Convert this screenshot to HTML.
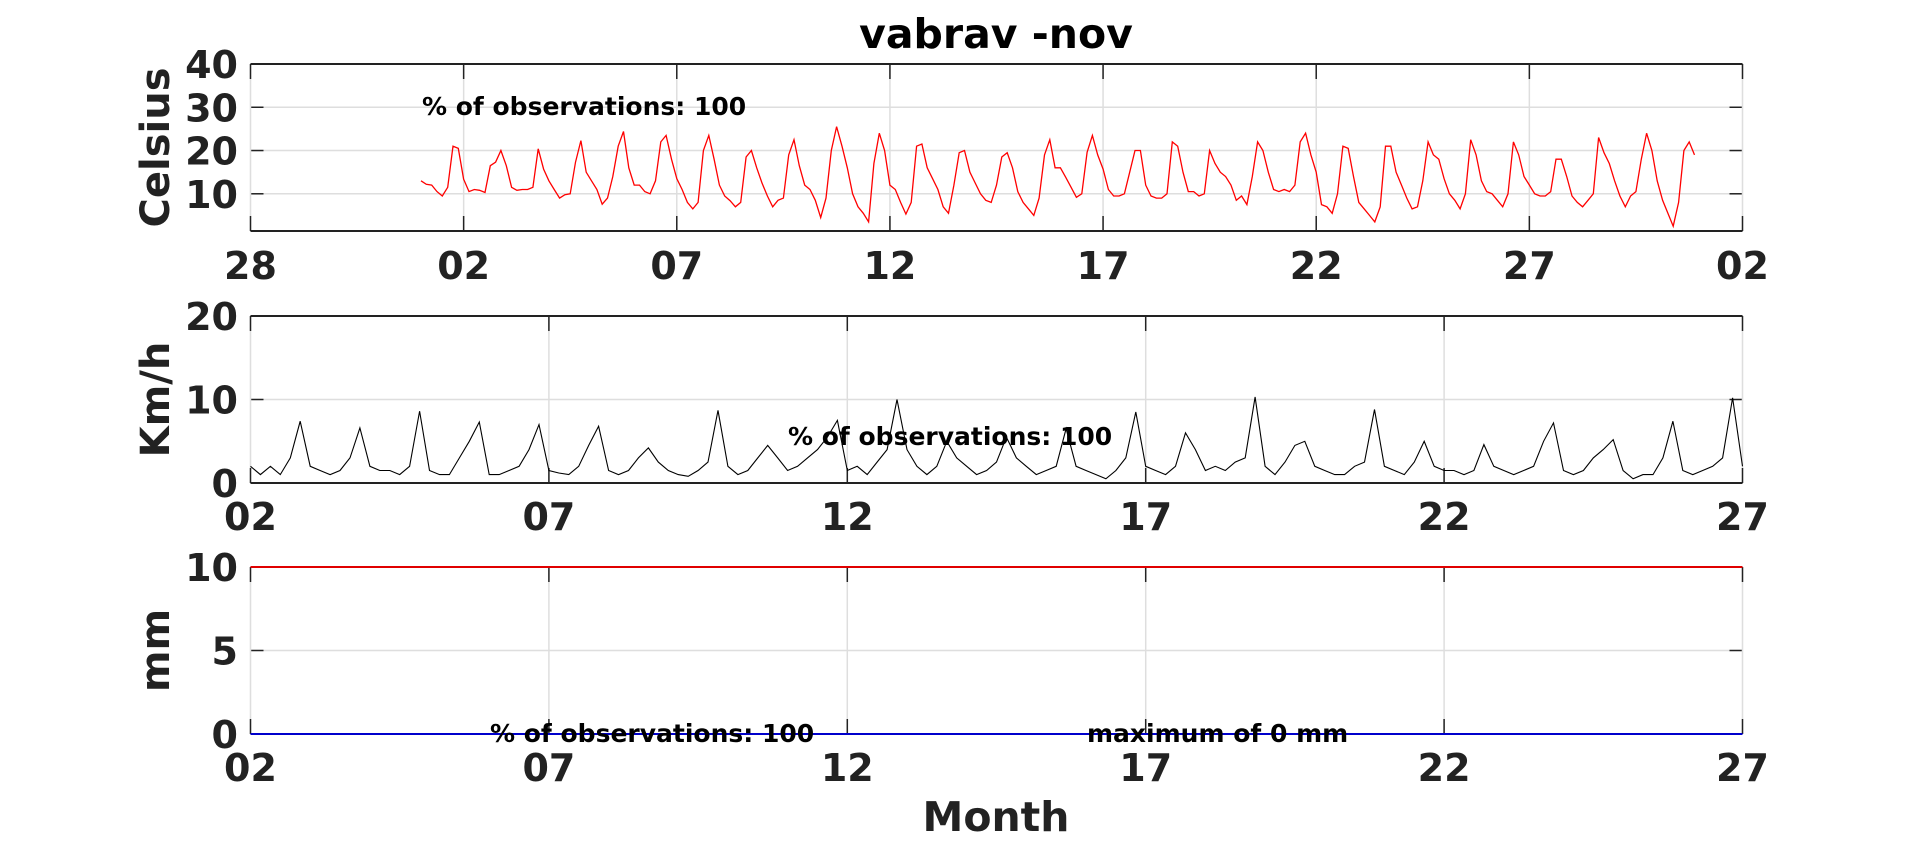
<!DOCTYPE html>
<html><head><meta charset="utf-8"><style>
html,body{margin:0;padding:0;background:#fff;}
svg{display:block;font-family:"DejaVu Sans","Liberation Sans",sans-serif;font-weight:bold;}
</style></head><body>
<svg id="chart" width="1923" height="841" viewBox="0 0 1923 841" xmlns="http://www.w3.org/2000/svg">
<text x="996" y="48" font-size="41" text-anchor="middle" fill="#000">vabrav -nov</text>
<g id="p1"></g>
<g id="p2"></g>
<g id="p3"></g>
<text x="996" y="831" font-size="41" text-anchor="middle" fill="#222">Month</text>
</svg>
<script>
// ---- data ----
const tempTicksX = ["28","02","07","12","17","22","27","02"];
const tempTicksY = [10,20,30,40];
const temperature = [
13,12.2,12,10.5,9.5,11.5,21,20.5,
13.4,10.5,11,10.8,10.3,16.5,17.3,20,
16.5,11.5,10.8,11,11,11.5,20.4,15.7,
13,11,9,9.8,10,17.3,22.3,15,
13,11,7.6,9,14,21,24.4,16,
12,12,10.5,10,13,22,23.5,18,
13.5,11,8,6.5,8,20,23.5,18,
12,9.5,8.4,7,8,18.5,20,16,
12.5,9.5,7,8.5,9,19,22.5,16.5,
12,11,8.5,4.5,9,20,25.5,21,
16,10,7,5.5,3.5,17,24,20,
12,11,8,5.3,8,21,21.5,16,
13.5,11,7,5.5,12,19.5,20,15,
12.5,10,8.5,8,12,18.5,19.5,16,
10.5,8,6.5,5,9,19,22.5,16,
16,13.8,11.5,9.2,10,19.6,23.5,19,
15.7,11,9.5,9.5,10,15,20,20,
12,9.5,9,9,10,22,21,15,
10.5,10.5,9.5,10,20,17,15,14,
12,8.5,9.5,7.5,14,22,20,15,
11,10.5,11,10.5,12,22,24,19,
15,7.5,7,5.5,10,21,20.5,14,
8,6.5,5,3.5,7,21,21,15,
12,9,6.5,7,13,22,19,18,
13.5,10,8.5,6.5,10,22.5,19,13,
10.5,10,8.5,7,10,22,19,14,
12,10,9.5,9.5,10.5,18,18,14,
9.5,8,7,8.5,10,23,19.5,17,
13,9.5,7,9.5,10.5,18,24,20,
13,8.5,5.5,2.5,8,20,22,19
];
const windTicksX = ["02","07","12","17","22","27"];
const windTicksY = [0,10,20];
const wind = [
2,1,2,1,3,7.4,
2,1.5,1,1.5,3,6.6,
2,1.5,1.5,1,2,8.6,
1.5,1,1,3,5,7.3,
1,1,1.5,2,4,7,
1.5,1.2,1,2,4.5,6.8,
1.5,1,1.5,3,4.2,2.5,
1.5,1,0.8,1.5,2.5,8.7,
2,1,1.5,3,4.5,3,
1.5,2,3,4,5.5,7.5,
1.5,2,1,2.5,4,10,
4,2,1,2,5,3,
2,1,1.5,2.5,5.5,3,
2,1,1.5,2,6.5,2,
1.5,1,0.5,1.5,3,8.5,
2,1.5,1,2,6,4,
1.5,2,1.5,2.5,3,10.3,
2,1,2.5,4.5,5,2,
1.5,1,1,2,2.5,8.8,
2,1.5,1,2.5,5,2,
1.5,1.5,1,1.5,4.6,2,
1.5,1,1.5,2,5,7.2,
1.5,1,1.5,3,4,5.2,
1.5,0.5,1,1,3,7.4,
1.5,1,1.5,2,3,10.2,
2
];
const precipTicksX = ["02","07","12","17","22","27"];
const precipTicksY = [0,5,10];
const precipMaxLine = [10];
const precipValues = [0];

// ---- drawing ----
const NS="http://www.w3.org/2000/svg";
const L=250.5, R=1742.5, W=R-L;
function el(parent,tag,attrs,text){const e=document.createElementNS(NS,tag);for(const k in attrs)e.setAttribute(k,attrs[k]);if(text!==undefined)e.textContent=text;parent.appendChild(e);return e;}

function panel(g,top,bot,ymin,ymax,xLabels,yTicks,yLabel,xLabY){
  const ys=v=>bot-(v-ymin)/(ymax-ymin)*(bot-top);
  const n=xLabels.length-1;
  const xs=i=>L+i/n*W;
  el(g,'rect',{x:L,y:top,width:W,height:bot-top,fill:'#fff'});
  yTicks.forEach(v=>{
    const gl=el(g,'line',{x1:L,x2:R,y1:ys(v),y2:ys(v),stroke:'#dedede','stroke-width':1.5});
    
    
    el(g,'line',{x1:L,x2:L+13,y1:ys(v),y2:ys(v),stroke:'#222','stroke-width':1.5});
    el(g,'line',{x1:R-13,x2:R,y1:ys(v),y2:ys(v),stroke:'#222','stroke-width':1.5});
    const t=el(g,'text',{x:238,y:ys(v)+14,'font-size':38,'text-anchor':'end',fill:'#222'},String(v));
    
    
  });
  xLabels.forEach((lab,i)=>{
    const x=xs(i);
    const gl=el(g,'line',{x1:x,x2:x,y1:top,y2:bot,stroke:'#dedede','stroke-width':1.5});
    
    
    el(g,'line',{x1:x,x2:x,y1:top,y2:top+15,stroke:'#222','stroke-width':1.5});
    el(g,'line',{x1:x,x2:x,y1:bot-15,y2:bot,stroke:'#222','stroke-width':1.5});
    const t=el(g,'text',{x:x,y:xLabY+14,'font-size':38,'text-anchor':'middle',fill:'#222'},lab);
    
    
  });
  el(g,'line',{x1:L,x2:R,y1:top,y2:top,stroke:'#222','stroke-width':2});
  el(g,'line',{x1:L,x2:R,y1:bot,y2:bot,stroke:'#222','stroke-width':2});
  const yl=el(g,'text',{transform:`translate(169,${(top+bot)/2}) rotate(-90)`,'font-size':40,'text-anchor':'middle',fill:'#222'},yLabel);
  
  
  return ys;
}

// Panel 1: temperature
const g1=document.getElementById('p1');
const ys1=panel(g1,64,231,1.4,40,tempTicksX,tempTicksY,'Celsius',265);
const xT=d=>L+d/35*W;
const pts1=temperature.map((v,i)=>xT(4+i/8).toFixed(1)+','+ys1(v).toFixed(1)).join(' ');
const l1=el(g1,'polyline',{points:pts1,fill:'none',stroke:'#ff0000','stroke-width':1.3});


const a1=el(g1,'text',{x:422,y:115,'font-size':25,fill:'#000'},'% of observations: 100');



// Panel 2: wind
const g2=document.getElementById('p2');
const ys2=panel(g2,316,483,0,20,windTicksX,windTicksY,'Km/h',516);
const xW=d=>L+d/25*W;
const pts2=wind.map((v,i)=>xW(i/6).toFixed(1)+','+ys2(v).toFixed(1)).join(' ');
const l2=el(g2,'polyline',{points:pts2,fill:'none',stroke:'#000','stroke-width':1.1});


const a2=el(g2,'text',{x:788,y:445,'font-size':25,fill:'#000'},'% of observations: 100');



// Panel 3: precipitation
const g3=document.getElementById('p3');
const ys3=panel(g3,567,734,0,10,precipTicksX,precipTicksY,'mm',767);
precipMaxLine.forEach(v=>{
  const ln=el(g3,'line',{x1:L,x2:R,y1:ys3(v),y2:ys3(v),stroke:'#e00000','stroke-width':2});
  
  
});
precipValues.forEach(v=>{
  const ln=el(g3,'line',{x1:L,x2:R,y1:ys3(v),y2:ys3(v),stroke:'#0000cc','stroke-width':2});
  
  
});
const a3=el(g3,'text',{x:490,y:742,'font-size':25,fill:'#000'},'% of observations: 100');


const a4=el(g3,'text',{x:1087,y:742,'font-size':25,fill:'#000'},'maximum of 0 mm');


</script>
</body></html>
